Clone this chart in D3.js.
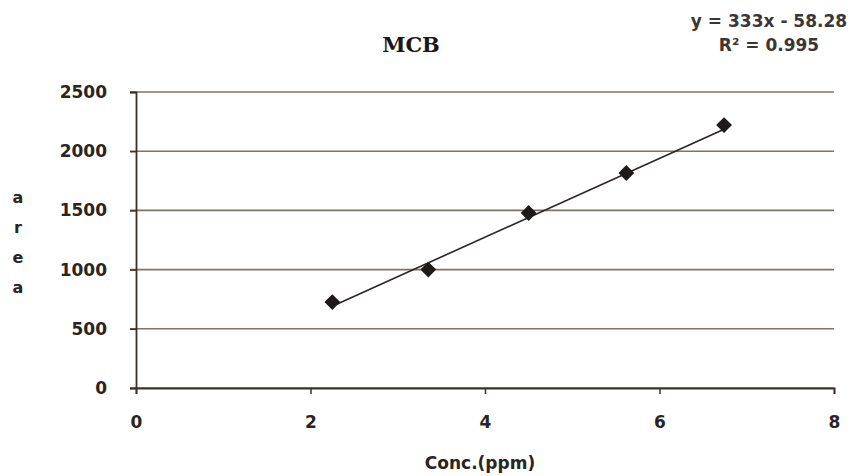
<!DOCTYPE html>
<html><head><meta charset="utf-8">
<script src="https://cdn.jsdelivr.net/npm/d3@7"></script>
<style>body{margin:0;background:#fff}svg{display:block}</style>
</head><body>
<div id="chart"></div>
<script>
const concValues = [2.25, 3.35, 4.5, 5.62, 6.74];
const areaValues = [726, 1000, 1478, 1816, 2221];
const xTicks = [0, 2, 4, 6, 8];
const yTicks = [0, 500, 1000, 1500, 2000, 2500];
const trendSlope = 333;
const trendIntercept = -58.28;
const equationLines = ["y = 333x - 58.28", "R² = 0.995"];
const chartTitle = "MCB";
const xLabel = "Conc.(ppm)";
const yLabelLetters = ["a", "r", "e", "a"];

const W = 862, H = 476;
const m = {left: 136, right: 28, top: 92, bottom: 88};
const svg = d3.select("#chart").append("svg").attr("width", W).attr("height", H);

const x = d3.scaleLinear().domain([0, 8]).range([m.left, W - m.right]);
const y = d3.scaleLinear().domain([0, 2500]).range([H - m.bottom, m.top]);

const tickFont = "Verdana, 'DejaVu Sans', sans-serif";
const gridColor = "#857066";
const textColor = "#2a2422";

// gridlines
svg.append("g").selectAll("line").data(yTicks).join("line")
  .attr("x1", x(0) - 6).attr("x2", x(8))
  .attr("y1", d => y(d)).attr("y2", d => y(d))
  .attr("stroke", gridColor).attr("stroke-width", 1.6);

// y axis
const yAxis = svg.append("g").attr("transform", `translate(${x(0)},0)`)
  .call(d3.axisLeft(y).tickValues(yTicks).tickFormat(d3.format("d")).tickSize(6).tickPadding(23));
yAxis.select(".domain").attr("stroke", "#3a302c").attr("stroke-width", 1.8);
yAxis.selectAll(".tick line").attr("stroke", "#3a302c").attr("stroke-width", 1.5);
yAxis.selectAll("text").attr("font-family", tickFont).attr("font-weight", "bold")
  .attr("font-size", 17).attr("fill", textColor);

// x axis
const xAxis = svg.append("g").attr("transform", `translate(0,${y(0)})`)
  .call(d3.axisBottom(x).tickValues(xTicks).tickFormat(d3.format("d")).tickSize(6).tickPadding(22));
xAxis.select(".domain").attr("stroke", "#3a302c").attr("stroke-width", 1.8);
xAxis.selectAll(".tick line").attr("stroke", "#3a302c").attr("stroke-width", 1.5);
xAxis.selectAll("text").attr("font-family", tickFont).attr("font-weight", "bold")
  .attr("font-size", 17).attr("fill", textColor);

// trendline
const xMin = d3.min(concValues), xMax = d3.max(concValues);
svg.append("line")
  .attr("x1", x(xMin)).attr("y1", y(trendSlope * xMin + trendIntercept))
  .attr("x2", x(xMax)).attr("y2", y(trendSlope * xMax + trendIntercept))
  .attr("stroke", "#2a2422").attr("stroke-width", 1.6);

// markers
const pts = concValues.map((c, i) => ({c, a: areaValues[i]}));
svg.append("g").selectAll("path").data(pts).join("path")
  .attr("d", d3.symbol().type(d3.symbolSquare).size(125))
  .attr("transform", d => `translate(${x(d.c)},${y(d.a)}) rotate(45)`)
  .attr("fill", "#1e1a1a");

// title
svg.append("text").attr("x", 411).attr("y", 52).attr("text-anchor", "middle")
  .attr("font-family", "'DejaVu Serif', 'Liberation Serif', serif").attr("font-weight", "bold")
  .attr("font-size", 21).attr("fill", "#1a1616").text(chartTitle);

// equation
svg.append("g").selectAll("text").data(equationLines).join("text")
  .attr("x", 769).attr("y", (d, i) => 27 + i * 24).attr("text-anchor", "middle")
  .attr("font-family", tickFont).attr("font-weight", "bold")
  .attr("font-size", 17).attr("fill", "#3a3636").text(d => d);

// x label
svg.append("text").attr("x", 480).attr("y", 469).attr("text-anchor", "middle")
  .attr("font-family", tickFont).attr("font-weight", "bold")
  .attr("font-size", 17).attr("fill", textColor).text(xLabel);

// y label letters
svg.append("g").selectAll("text").data(yLabelLetters).join("text")
  .attr("x", 18).attr("y", (d, i) => 203 + i * 30).attr("text-anchor", "middle")
  .attr("font-family", tickFont).attr("font-weight", "bold")
  .attr("font-size", 16).attr("fill", textColor).text(d => d);
</script>
</body></html>
